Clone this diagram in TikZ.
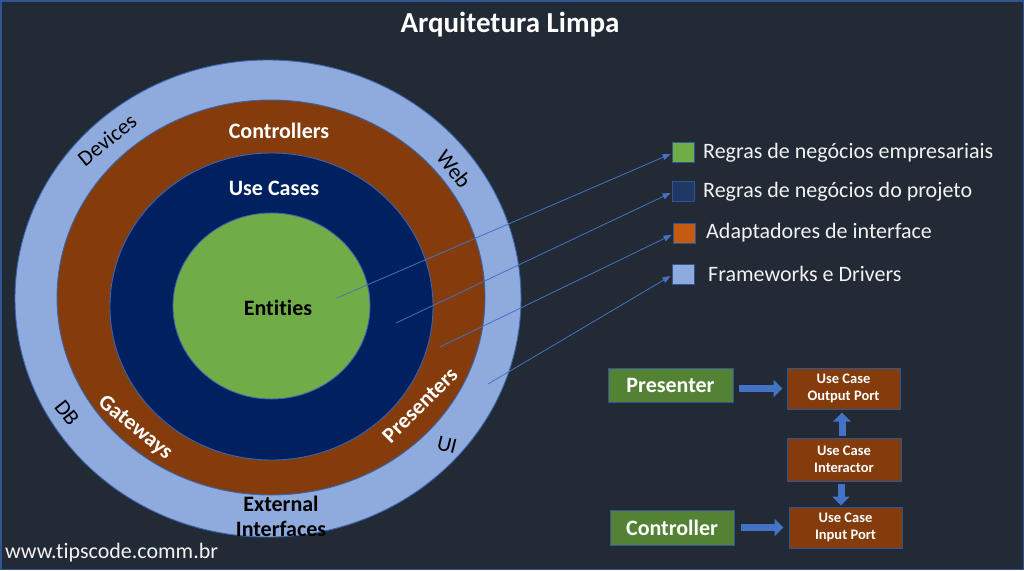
\documentclass[tikz,border=0pt]{standalone}
\usepackage{fontspec}
\setmainfont[Ligatures=CommonOff]{Carlito}
\usetikzlibrary{arrows.meta,calc,shapes.geometric}
\definecolor{bgc}{HTML}{222A35}
\definecolor{framec}{HTML}{2F5597}
\definecolor{lightring}{HTML}{8FAADC}
\definecolor{brownring}{HTML}{843C0C}
\definecolor{navyring}{HTML}{002060}
\definecolor{greenring}{HTML}{70AD47}
\definecolor{edgec}{HTML}{3A64AE}
\definecolor{linec}{HTML}{4472C4}
\definecolor{legnavy}{HTML}{203864}
\definecolor{legorange}{HTML}{C55A11}
\definecolor{boxgreen}{HTML}{548235}
\definecolor{txtc}{HTML}{F2F2F2}
\begin{document}
\begin{tikzpicture}[x=1pt,y=-1pt,
  ring/.style={ellipse, draw=edgec, line width=0.9pt, inner sep=0pt},
  lbl/.style={font=\fontsize{22}{25}\selectfont, inner sep=0pt, align=center},
  wlbl/.style={lbl, font=\fontsize{22}{25}\selectfont\bfseries, text=white},
  blbl/.style={lbl, text=black},
  legsq/.style={draw=framec, line width=0.9pt, minimum width=22pt, minimum height=20pt, inner sep=0pt},
  legtxt/.style={anchor=west, inner sep=0pt, text=txtc, font=\fontsize{22}{25}\selectfont},
  link/.style={draw=linec, line width=0.8pt, -{Triangle[width=6pt,length=8pt]}},
  gbox/.style={draw=framec, line width=1pt, fill=boxgreen, inner sep=0pt, text=white, font=\fontsize{22}{25}\selectfont\bfseries},
  bbox/.style={draw=framec, line width=1pt, fill=brownring, inner sep=0pt, text=white, align=center, font=\fontsize{14.5}{17}\selectfont\bfseries},
  blockarrow/.style={draw=linec, line width=7pt, -{Triangle[width=17pt,length=9pt]}}
]
\fill[bgc] (0,0) rectangle (1024,570);
\draw[framec, line width=1.5pt] (0.75,0.75) rectangle (1023.25,569.25);
\node[text=white, font=\fontsize{29}{32}\selectfont\bfseries, inner sep=0pt] (title) at (510,25) {Arquitetura Limpa};

% rings
\node[ring, fill=lightring, minimum width=506pt, minimum height=477pt] (outer) at (268,298.5) {};
\node[ring, fill=brownring, minimum width=428pt, minimum height=395pt] (adapt) at (271,297.5) {};
\node[ring, fill=navyring, minimum width=323pt, minimum height=307pt] (usec) at (271.5,306.5) {};
\node[ring, fill=greenring, minimum width=197pt, minimum height=186pt] (ent) at (271.5,306) {};

% ring labels
\node[wlbl] (lcontrollers) at (279,131) {Controllers};
\node[wlbl] (lusecases) at (274,188) {Use Cases};
\node[lbl, font=\fontsize{22}{25}\selectfont\bfseries, text=black] (lentities) at (278,308) {Entities};
\node[wlbl, rotate=-39] (lgateways) at (135,428) {Gateways};
\node[wlbl, rotate=45] (lpresenters) at (420,405) {Presenters};
\node[blbl, rotate=39] (ldevices) at (107,140) {Devices};
\node[blbl, rotate=-52] (lweb) at (454,169) {Web};
\node[blbl, rotate=-52] (ldb) at (67,413) {DB};
\node[blbl, rotate=-14] (lui) at (447,445) {UI};
\node[lbl, font=\fontsize{22}{25}\selectfont\bfseries, text=black] (lext) at (281,516) {External\\Interfaces};

% legend
\node[legsq, fill=greenring] (sq1) at (683,152) {};
\node[legsq, fill=legnavy] (sq2) at (683,191) {};
\node[legsq, fill=legorange] (sq3) at (684,233) {};
\node[legsq, fill=lightring] (sq4) at (683,274) {};
\node[legtxt] (t1) at (703,153) {Regras de negócios empresariais};
\node[legtxt] (t2) at (703,192) {Regras de negócios do projeto};
\node[legtxt] (t3) at (706,233) {Adaptadores de interface};
\node[legtxt] (t4) at (708,274) {Frameworks e Drivers};

% connectors
\coordinate (c1) at (337,298);
\coordinate (c2) at (396,323);
\coordinate (c3) at (440,347);
\coordinate (c4) at (488,384);
\draw[link] (c1) -- ($(sq1.west)+(-1,2)$);
\draw[link] (c2) -- ($(sq2.west)+(-1,2)$);
\draw[link] (c3) -- ($(sq3.west)+(-1,2)$);
\draw[link] (c4) -- ($(sq4.west)+(-1,2)$);

% bottom right boxes
\node[gbox, minimum width=125pt, minimum height=34pt] (pres) at (670.5,385.5) {Presenter};
\node[gbox, minimum width=124pt, minimum height=35pt] (ctrl) at (672,527.5) {Controller};
\node[bbox, minimum width=113pt, minimum height=41pt] (outp) at (843.5,388.5) {Use Case\\Output Port};
\node[bbox, minimum width=114pt, minimum height=43pt] (inter) at (844,459.5) {Use Case\\Interactor};
\node[bbox, minimum width=113pt, minimum height=41pt] (inp) at (845.5,527.5) {Use Case\\Input Port};

\draw[blockarrow] ($(pres.east|-outp.west)+(5,0)$) -- ($(outp.west)+(-4,0)$);
\draw[blockarrow] ($(ctrl.east|-inp.west)+(6,0)$) -- ($(inp.west)+(-5,0)$);
\draw[blockarrow] ($(inter.north)+(-2,-2)$) -- ($(outp.south)+(-1.5,3)$);
\draw[blockarrow] ($(inter.south)+(-3,2)$) -- ($(inp.north)+(-4.5,-1)$);

\node[anchor=west, inner sep=0pt, text=txtc, font=\fontsize{22}{25}\selectfont] (url) at (5,553) {www.tipscode.comm.br};
\end{tikzpicture}
\end{document}
